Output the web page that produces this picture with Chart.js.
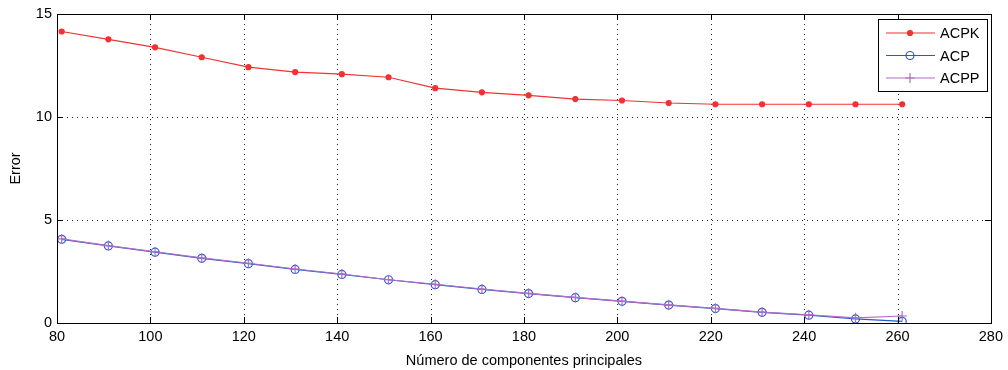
<!DOCTYPE html>
<html lang="es">
<head>
<meta charset="UTF-8">
<title>Error vs componentes principales</title>
<script src="https://cdn.jsdelivr.net/npm/chart.js@4.4.1/dist/chart.umd.min.js"></script>
<style>
    body { margin: 0; background: #fff; }
    #wrap { width: 1008px; height: 370px; }
</style>
</head>
<body>
<div id="wrap"><canvas id="grafico" width="1008" height="370"></canvas></div>
<script>
    const componentes = [81, 91, 101, 111, 121, 131, 141, 151, 161, 171, 181, 191, 201, 211, 221, 231, 241, 251, 261];
    const errorACPK = [14.15, 13.77, 13.38, 12.9, 12.42, 12.18, 12.08, 11.93, 11.4, 11.2, 11.05, 10.87, 10.8, 10.68, 10.62, 10.62, 10.62, 10.62, 10.62];
    const errorACP = [4.06, 3.74, 3.44, 3.14, 2.88, 2.6, 2.36, 2.1, 1.86, 1.63, 1.43, 1.23, 1.05, 0.87, 0.7, 0.52, 0.38, 0.2, 0.08];
    const errorACPP = [4.08, 3.76, 3.46, 3.16, 2.9, 2.62, 2.38, 2.1, 1.88, 1.65, 1.44, 1.24, 1.06, 0.88, 0.71, 0.53, 0.4, 0.25, 0.34];
    const ticksX = [80, 100, 120, 140, 160, 180, 200, 220, 240, 260, 280];
    const ticksY = [0, 5, 10, 15];

    const fuente = { family: 'Liberation Sans', size: 14.5 };

    function puntos(valores) {
        return componentes.map((x, i) => ({ x: x, y: valores[i] }));
    }

    // rejilla punteada (antes de las series)
    const rejilla = {
        id: 'rejilla',
        beforeDatasetsDraw(chart) {
            const c = chart.ctx;
            const a = chart.chartArea;
            const sx = chart.scales.x, sy = chart.scales.y;
            c.save();
            c.strokeStyle = '#222';
            c.lineWidth = 1;
            c.setLineDash([1, 4]);
            c.beginPath();
            ticksX.forEach(t => {
                const px = Math.round(sx.getPixelForValue(t)) + 0.5;
                c.moveTo(px, a.top); c.lineTo(px, a.bottom);
            });
            ticksY.forEach(t => {
                const py = Math.round(sy.getPixelForValue(t)) + 0.5;
                c.moveTo(a.left, py); c.lineTo(a.right, py);
            });
            c.stroke();
            c.restore();
        }
    };

    // marco, marcas hacia dentro y leyenda al estilo matlab
    const marco = {
        id: 'marco',
        afterDraw(chart) {
            const c = chart.ctx;
            const a = chart.chartArea;
            const sx = chart.scales.x, sy = chart.scales.y;
            c.save();
            c.strokeStyle = '#000';
            c.lineWidth = 1;
            c.strokeRect(Math.round(a.left) + 0.5, Math.round(a.top) + 0.5, Math.round(a.right - a.left), Math.round(a.bottom - a.top));
            c.beginPath();
            ticksX.forEach(t => {
                const px = Math.round(sx.getPixelForValue(t)) + 0.5;
                c.moveTo(px, a.bottom); c.lineTo(px, a.bottom - 6);
                c.moveTo(px, a.top); c.lineTo(px, a.top + 6);
            });
            ticksY.forEach(t => {
                const py = Math.round(sy.getPixelForValue(t)) + 0.5;
                c.moveTo(a.left, py); c.lineTo(a.left + 6, py);
                c.moveTo(a.right, py); c.lineTo(a.right - 6, py);
            });
            c.stroke();

            // leyenda
            const lx = 878, ly = 19, lw = 109, lh = 72;
            c.fillStyle = '#fff';
            c.fillRect(lx, ly, lw, lh);
            c.strokeStyle = '#000';
            c.strokeRect(lx + 0.5, ly + 0.5, lw, lh);
            c.font = '14.5px "Liberation Sans"';
            c.textBaseline = 'middle';
            ['ACPK', 'ACP', 'ACPP'].forEach((nombre, i) => {
                const ds = chart.data.datasets.find(d => d.label === nombre);
                const y = ly + 14 + i * 22.5;
                c.strokeStyle = ds.borderColor;
                c.fillStyle = ds.backgroundColor;
                c.lineWidth = 1.2;
                c.beginPath(); c.moveTo(lx + 8, y); c.lineTo(lx + 57, y); c.stroke();
                Chart.helpers.drawPoint(c, {
                    pointStyle: ds.pointStyle, radius: ds.pointRadius, borderWidth: 1.2
                }, lx + 32, y);
                c.fillStyle = '#000';
                c.fillText(nombre, lx + 62, y + 1);
            });
            c.restore();
        }
    };

    const config = {
        type: 'line',
        data: {
            datasets: [
                {
                    label: 'ACPK',
                    data: puntos(errorACPK),
                    borderColor: 'rgb(240, 50, 50)',
                    backgroundColor: 'rgb(240, 50, 50)',
                    pointStyle: 'circle',
                    pointRadius: 2.5,
                    borderWidth: 1.2,
                    order: 0
                },
                {
                    label: 'ACP',
                    data: puntos(errorACP),
                    borderColor: 'rgb(40, 90, 200)',
                    backgroundColor: 'rgba(0,0,0,0)',
                    pointStyle: 'circle',
                    pointRadius: 4,
                    borderWidth: 1.2,
                    order: 2
                },
                {
                    label: 'ACPP',
                    data: puntos(errorACPP),
                    borderColor: 'rgb(180, 110, 195)',
                    backgroundColor: 'rgb(180, 110, 195)',
                    pointStyle: 'cross',
                    pointRadius: 5,
                    borderWidth: 1.2,
                    order: 1
                }
            ]
        },
        options: {
            responsive: false,
            animation: false,
            layout: { padding: { left: 0, right: 0, top: 14, bottom: 0 } },
            plugins: {
                legend: { display: false },
                tooltip: { enabled: false }
            },
            scales: {
                x: {
                    type: 'linear',
                    min: 80,
                    max: 280,
                    afterBuildTicks: s => { s.ticks = ticksX.map(v => ({ value: v })); },
                    afterFit: s => { s.height = 47; },
                    grid: { display: false, drawTicks: false },
                    border: { display: false },
                    ticks: { color: '#000', font: fuente, padding: 5, maxRotation: 0 },
                    title: { display: true, text: 'Número de componentes principales', color: '#000', font: fuente, padding: { top: 0, bottom: 0 } }
                },
                y: {
                    min: 0,
                    max: 15,
                    afterBuildTicks: s => { s.ticks = ticksY.map(v => ({ value: v })); },
                    afterFit: s => { s.width = 57; },
                    grid: { display: false, drawTicks: false },
                    border: { display: false },
                    ticks: { color: '#000', font: fuente, padding: 5 },
                    title: { display: true, text: 'Error', color: '#000', font: fuente, padding: { top: 7, bottom: 7 } }
                }
            }
        },
        plugins: [rejilla, marco]
    };

    new Chart(document.getElementById('grafico').getContext('2d'), config);
</script>
</body>
</html>
